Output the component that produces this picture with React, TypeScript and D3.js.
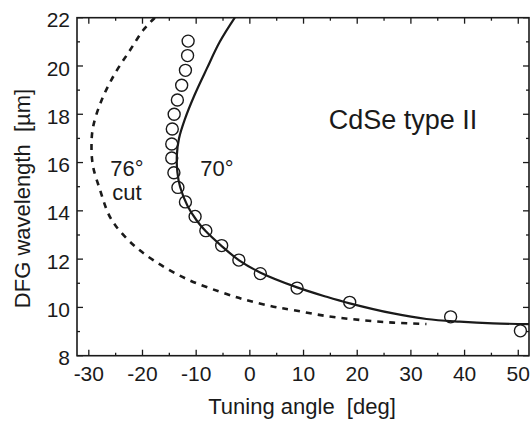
import * as d3 from "d3";
import React from "react";

// measured points, 70° cut crystal
const measAngle = [-11.5, -11.6, -12.0, -12.7, -13.5, -14.1, -14.45, -14.55, -14.55, -14.15, -13.4, -12.0, -10.2, -8.2, -5.25, -2.05, 1.95, 8.8, 18.6, 37.4, 50.4];
const measWl = [21.03, 20.43, 19.82, 19.2, 18.59, 18.0, 17.39, 16.77, 16.19, 15.58, 14.97, 14.37, 13.77, 13.18, 12.56, 11.96, 11.4, 10.8, 10.21, 9.61, 9.03];

// calculated tuning curve, 70° cut (solid)
const calc70Angle = [-2.8, -5.6, -8.0, -10.3, -12.1, -13.2, -13.6, -13.5, -13.0, -11.6, -9.9, -8.2, -5.3, -2.0, 1.9, 8.8, 14.3, 18.6, 26.7, 32.9, 39.1, 45.3, 52.0];
const calc70Wl = [22, 21.0, 19.9, 18.8, 17.8, 17.0, 16.3, 15.6, 15.0, 14.2, 13.6, 13.15, 12.55, 11.95, 11.45, 10.83, 10.44, 10.17, 9.75, 9.52, 9.41, 9.34, 9.31];

// calculated tuning curve, 76° cut (dashed)
const calc76Angle = [-17.7, -19.85, -22.3, -25.1, -27.6, -29.2, -29.5, -29.2, -27.9, -26.4, -25.1, -22.0, -18.0, -11.8, -5.6, -0.6, 4.4, 8.1, 14.3, 20.5, 26.7, 32.9];
const calc76Wl = [22, 21.49, 20.66, 19.7, 18.59, 17.48, 16.66, 15.83, 14.86, 13.9, 13.41, 12.65, 11.96, 11.18, 10.65, 10.3, 10.03, 9.89, 9.64, 9.48, 9.37, 9.31];

const xTicks = [-30, -20, -10, 0, 10, 20, 30, 40, 50];
const xMinor = [-25, -15, -5, 5, 15, 25, 35, 45];
const yTicks = [8, 10, 12, 14, 16, 18, 20, 22];
const yMinor = [9, 11, 13, 15, 17, 19, 21];

const W = 531;
const H = 423;
const left = 77;
const right = 529;
const top = 17.7;
const bottom = 355.7;
const font = "'Liberation Sans', Arial, Helvetica, sans-serif";
const ink = "#1a1a1a";

export default function App() {
  const x = d3.scaleLinear().domain([-32.2, 52]).range([left, right]);
  const y = d3.scaleLinear().domain([8, 22]).range([bottom, top]);

  const line = d3
    .line<[number, number]>()
    .x((d) => x(d[0]))
    .y((d) => y(d[1]))
    .curve(d3.curveCatmullRom.alpha(0.5));

  const c70 = calc70Angle.map((a, i) => [a, calc70Wl[i]] as [number, number]);
  const c76 = calc76Angle.map((a, i) => [a, calc76Wl[i]] as [number, number]);

  const major = 6;
  const minor = 3;

  return (
    <svg
      width={W}
      height={H}
      viewBox={`0 0 ${W} ${H}`}
      style={{ position: "absolute", left: 0, top: 0, background: "#fff" }}
      fontFamily={font}
    >
      <defs>
        <clipPath id="plot">
          <rect x={left} y={top} width={right - left} height={bottom - top} />
        </clipPath>
      </defs>

      <g clipPath="url(#plot)" fill="none">
        <path d={line(c76) ?? ""} stroke={ink} strokeWidth={2.6} strokeDasharray="6,6" />
        <path d={line(c70) ?? ""} stroke={ink} strokeWidth={2.2} />
        {measAngle.map((a, i) => (
          <circle key={i} cx={x(a)} cy={y(measWl[i])} r={6} stroke={ink} strokeWidth={1.4} />
        ))}
      </g>

      {/* ticks, inward on all four sides */}
      <g stroke={ink} strokeWidth={1.3}>
        {xTicks.map((t) => (
          <g key={"xt" + t}>
            <line x1={x(t)} x2={x(t)} y1={bottom} y2={bottom - major} />
            <line x1={x(t)} x2={x(t)} y1={top} y2={top + major} />
          </g>
        ))}
        {xMinor.map((t) => (
          <g key={"xm" + t}>
            <line x1={x(t)} x2={x(t)} y1={bottom} y2={bottom - minor} />
            <line x1={x(t)} x2={x(t)} y1={top} y2={top + minor} />
          </g>
        ))}
        {yTicks.map((t) => (
          <g key={"yt" + t}>
            <line x1={left} x2={left + major} y1={y(t)} y2={y(t)} />
            <line x1={right} x2={right - major} y1={y(t)} y2={y(t)} />
          </g>
        ))}
        {yMinor.map((t) => (
          <g key={"ym" + t}>
            <line x1={left} x2={left + minor} y1={y(t)} y2={y(t)} />
            <line x1={right} x2={right - minor} y1={y(t)} y2={y(t)} />
          </g>
        ))}
      </g>

      <rect x={left} y={top} width={right - left} height={bottom - top} fill="none" stroke={ink} strokeWidth={1.6} />

      <g fontSize={21} fill={ink}>
        {xTicks.map((t) => (
          <text key={"xl" + t} x={x(t)} y={381} textAnchor="middle">
            {t}
          </text>
        ))}
        {yTicks.map((t) => (
          <text key={"yl" + t} x={70} y={y(t) + 4} textAnchor="end" dominantBaseline="middle">
            {t}
          </text>
        ))}
      </g>

      <text x={302} y={414} fontSize={22} textAnchor="middle" fill={ink} style={{ whiteSpace: "pre" }}>
        {"Tuning angle  [deg]"}
      </text>
      <text
        transform="translate(29.5,198.5) rotate(-90)"
        fontSize={22}
        textAnchor="middle"
        fill={ink}
        style={{ whiteSpace: "pre" }}
      >
        {"DFG wavelength  [µm]"}
      </text>

      <g fill={ink} fontSize={22}>
        <text x={127} y={176} textAnchor="middle">76°</text>
        <text x={127} y={200} textAnchor="middle">cut</text>
        <text x={217} y={176} textAnchor="middle">70°</text>
        <text x={403} y={128.5} textAnchor="middle" fontSize={27}>CdSe type II</text>
      </g>
    </svg>
  );
}
